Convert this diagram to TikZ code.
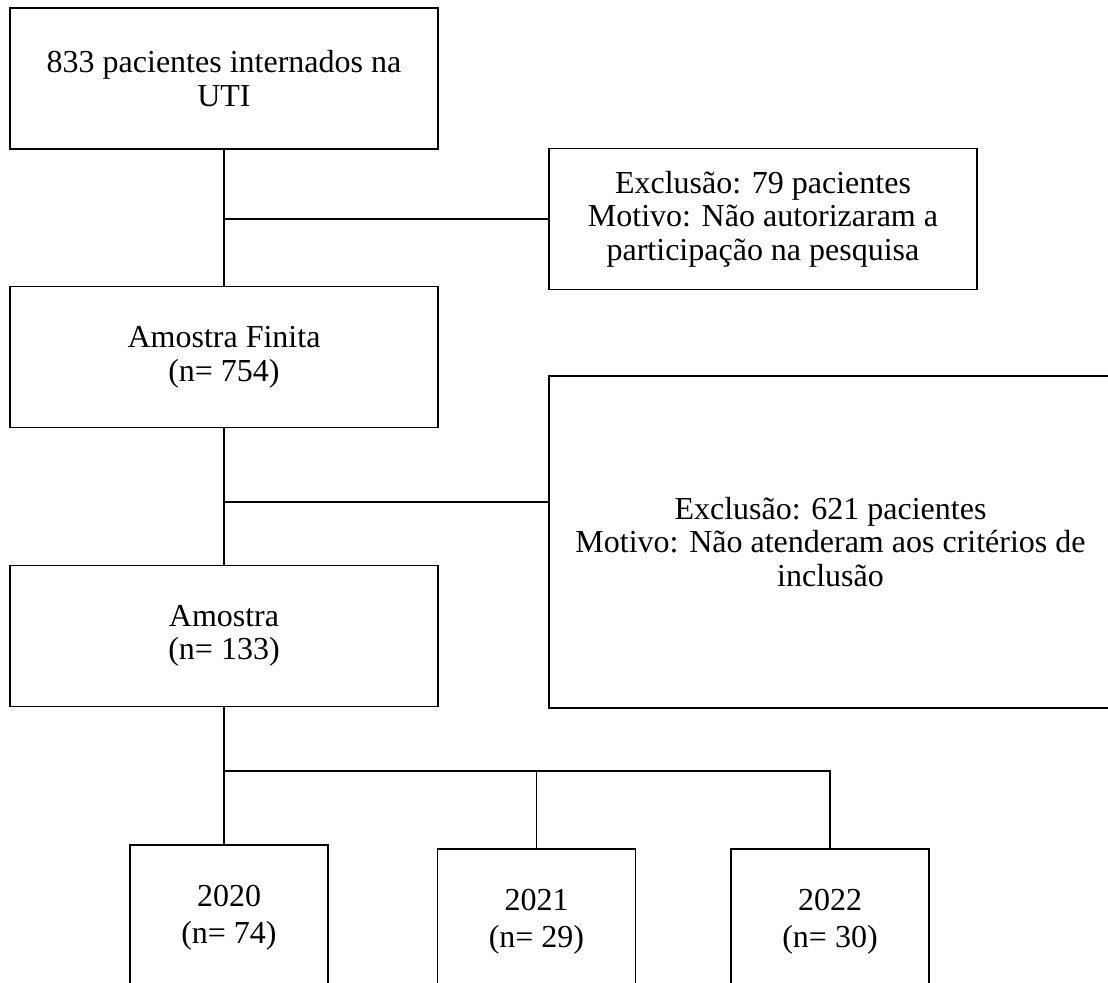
\documentclass[tikz,border=0pt]{standalone}
\usepackage{fontspec}
\setmainfont{Liberation Serif}
\usetikzlibrary{positioning}

\begin{document}
\begin{tikzpicture}[x=0.5pt, y=-0.5pt, line width=0.7pt,
    font=\fontsize{16}{16.8}\selectfont,
    box/.style={draw, align=center, inner sep=0pt, minimum width=214pt, minimum height=70.5pt},
    yearbox/.style={draw, align=center, inner sep=0pt, minimum width=99pt, minimum height=73pt,
      font=\fontsize{16}{18.5}\selectfont}]
  \useasboundingbox (0,0) rectangle (1108,982);
  % main column
  \node[box] (pat) at (224,78.5) {833 pacientes internados na\\ UTI};
  \node[box] (fin) at (224,357) {Amostra Finita\\ (n= 754)};
  \node[box] (ams) at (224,636) {Amostra\\ (n= 133)};
  % exclusions
  \node[box] (exa) at (763,219)
    {Exclusão: 79 pacientes\\ Motivo: Não autorizaram a\\ participação na pesquisa};
  \node[box, minimum width=281.5pt, minimum height=166pt] (exb) at (830.5,542)
    {Exclusão: 621 pacientes\\ Motivo: Não atenderam aos critérios de\\ inclusão};
  % years
  \node[yearbox] (ya) at (229,918) {2020\\ (n= 74)};
  \node[yearbox] (yb) at (536.5,922) {2021\\ (n= 29)};
  \node[yearbox] (yc) at (830,922) {2022\\ (n= 30)};
  % connectors
  \coordinate (jb) at (549,502);
  \coordinate (ja) at (830,771);
  \draw (pat.south) -- (fin.north);
  \draw (pat.south |- exa.west) -- (exa.west);
  \draw (fin.south) -- (ams.north);
  \draw (fin.south |- jb) -- (jb);
  \draw (ams.south) -- (ams.south |- ya.north);
  \draw (ams.south |- ja) -- (ja) -- (yc.north);
  \draw (yb.north |- ja) -- (yb.north);
\end{tikzpicture}
\end{document}
